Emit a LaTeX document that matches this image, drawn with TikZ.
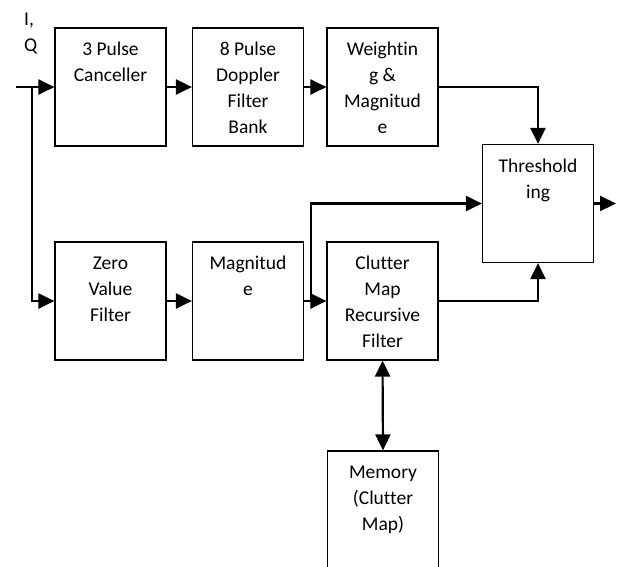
\documentclass[tikz,border=0pt]{standalone}
\usepackage{fontspec}
\setmainfont{Carlito}[Ligatures=NoCommon]
\usetikzlibrary{arrows.meta}
\tikzset{
  blk/.style={draw=black, line width=1.2pt, minimum width=111pt, minimum height=118pt, inner sep=0pt, fill=white},
  txt/.style={font=\fontsize{19.5}{26}\selectfont, align=center, inner sep=0pt, anchor=north, text=black},
  conn/.style={line width=2.2pt, -{Triangle[length=16pt,width=15pt]}},
  dconn/.style={line width=2.2pt, {Triangle[length=16pt,width=15pt]}-{Triangle[length=16pt,width=15pt]}},
  plain/.style={line width=2.2pt}
}
\begin{document}
\begin{tikzpicture}[x=1pt,y=-1pt]
\clip (0,0) rectangle (617,566);
\fill[white] (0,0) rectangle (617,566);
% boxes
\node[blk] (b1) at (110.5,87) {};
\node[blk] (b2) at (248,87) {};
\node[blk] (b3) at (382.5,87) {};
\node[blk] (thr) at (538,203.5) {};
\node[blk] (zvf) at (110.5,301) {};
\node[blk] (mag) at (248,301) {};
\node[blk] (cm) at (382.5,301) {};
\node[blk, minimum height=150pt] (mem) at (383,526) {};
% texts
\node[txt] (t1) at ([yshift=-9.8pt]b1.north) {\strut 3 Pulse\\Canceller};
\node[txt] (t2) at ([yshift=-9.8pt]b2.north) {\strut 8 Pulse\\Doppler\\Filter\\Bank};
\node[txt] (t3) at ([yshift=-9.8pt]b3.north) {\strut Weightin\\g \&\\Magnitud\\e};
\node[txt] (tt) at ([yshift=-9.8pt]thr.north) {\strut Threshold\\ing};
\node[txt] (tz) at ([yshift=-9.8pt]zvf.north) {\strut Zero\\Value\\Filter};
\node[txt] (tm) at ([yshift=-9.8pt]mag.north) {\strut Magnitud\\e};
\node[txt] (tc) at ([yshift=-9.8pt]cm.north) {\strut Clutter\\Map\\Recursive\\Filter};
\node[txt] (tmem) at ([yshift=-9.8pt]mem.north) {\strut Memory\\(Clutter\\Map)};
\node[txt, align=left, anchor=north west] (iq) at (24,7) {\strut I,\\Q};
% coordinates
\coordinate (in) at (16,87);
\coordinate (split) at (32,87);
\coordinate (br) at (311,301);
\coordinate (out) at (616,203.5);
% connectors
\draw[conn] (in) -- (b1.west);
\draw[conn] (split) |- (zvf.west);
\draw[conn] (b1) -- (b2);
\draw[conn] (b2) -- (b3);
\draw[conn] (b3.east) -| (thr.north);
\draw[conn] (thr.east) -- (out);
\draw[conn] (zvf) -- (mag);
\draw[conn] (mag) -- (cm);
\draw[conn] (br) |- (thr.west);
\draw[conn] (cm.east) -| (thr.south);
\draw[dconn] (cm.south) -- (mem.north);
\end{tikzpicture}
\end{document}
